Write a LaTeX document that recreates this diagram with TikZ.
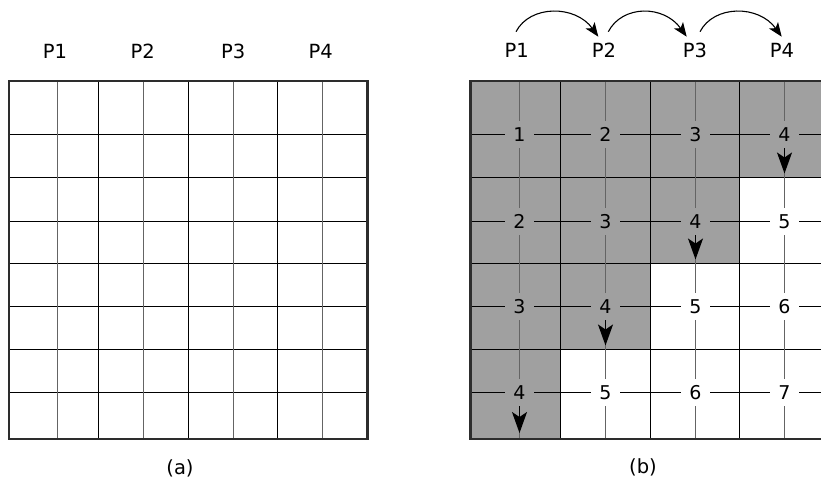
\documentclass[tikz,border=0pt]{standalone}
\usepackage{fontspec}
\setmainfont{DejaVu Sans}
\usetikzlibrary{arrows.meta,calc}
\definecolor{shadegray}{RGB}{160,160,160}
\definecolor{minorgray}{RGB}{100,100,100}
\definecolor{borderdark}{RGB}{45,45,45}
\tikzset{
  majorline/.style={black,line width=1pt},
  minorline/.style={minorgray,line width=1.5pt},
  midline/.style={black,line width=1pt},
  borderline/.style={borderdark,line width=2.5pt},
  plabel/.style={font=\fontsize{19.5}{23}\selectfont,inner sep=2pt},
  caplabel/.style={font=\fontsize{19.5}{23}\selectfont,inner sep=2pt},
  cellnum/.style={font=\fontsize{19}{23}\selectfont,inner sep=0pt,minimum width=29pt,minimum height=27pt},
  downarrow/.style={black,line width=1.3pt,-{Stealth[length=21pt,width=15pt,inset=5pt]}},
  hoparrow/.style={black,line width=1.1pt,-{Stealth[length=14pt,width=11pt,inset=3.5pt]}}
}
\begin{document}
\begin{tikzpicture}[x=1pt,y=-1pt]
\useasboundingbox (0,0) rectangle (821,485);
\clip (0,0) rectangle (821,485);
% ---------------- (a) ----------------
\foreach \y in {134.5,177.5,221.5,263.5,306.5,349.5,392.5}
  \draw[majorline] (9,\y) -- (367.7,\y);
\foreach \x in {98.5,188.5,277.5}
  \draw[majorline] (\x,81) -- (\x,439);
\foreach \x in {57.5,143.5,233.5,322.5}
  \draw[minorline] (\x,81) -- (\x,439);
\draw[borderline] (9,81) rectangle (367.7,439);
\node[plabel] (pa1) at (55,51) {P1};
\node[plabel] (pa2) at (142.7,51) {P2};
\node[plabel] (pa3) at (233.3,51) {P3};
\node[plabel] (pa4) at (320.7,51) {P4};
\node[caplabel] (capa) at (180,468) {(a)};
% ---------------- (b) ----------------
\fill[shadegray] (470.7,81) -- (829.4,81) -- (829.4,177.5) -- (739.5,177.5)
  -- (739.5,263.5) -- (650.5,263.5) -- (650.5,349.5) -- (560.5,349.5)
  -- (560.5,439) -- (470.7,439) -- cycle;
\foreach \y in {177.5,263.5,349.5}
  \draw[majorline] (470.7,\y) -- (829.4,\y);
\foreach \x in {560.5,650.5,739.5}
  \draw[majorline] (\x,81) -- (\x,439);
% cell numbers
\foreach \r/\y in {1/134.5,2/221.5,3/306.5,4/392.5}{
  \foreach \c/\x in {1/519.5,2/605.5,3/695.5,4/784.5}{
    \pgfmathtruncatemacro{\v}{\r+\c-1}
    \node[cellnum] (n\r\c) at (\x,\y) {\v};
  }
}
% coordinates on borders
\foreach \r/\y in {1/134.5,2/221.5,3/306.5,4/392.5}{
  \coordinate (L\r) at (470.7,\y);
  \coordinate (R\r) at (829.4,\y);
}
\foreach \c/\x in {1/519.5,2/605.5,3/695.5,4/784.5}{
  \coordinate (T\c) at (\x,81);
  \coordinate (B\c) at (\x,439);
}
% horizontal lines through numbers
\foreach \r in {1,2,3,4}
  \draw[midline] (L\r) -- (n\r1) -- (n\r2) -- (n\r3) -- (n\r4) -- (R\r);
% vertical lines through numbers
\foreach \c in {1,2,3,4}
  \draw[minorline] (T\c) -- (n1\c) -- (n2\c) -- (n3\c) -- (n4\c) -- (B\c);
% down arrows
\coordinate (a14) at (784.5,173.5);
\coordinate (a23) at (695.5,259.5);
\coordinate (a32) at (605.5,345.5);
\coordinate (a41) at (519.5,433);
\draw[downarrow] (n14) -- (a14);
\draw[downarrow] (n23) -- (a23);
\draw[downarrow] (n32) -- (a32);
\draw[downarrow] (n41) -- (a41);
\draw[borderline] (470.7,81) rectangle (829.4,439);
% P labels
\node[plabel] (pb1) at (516.7,50) {P1};
\node[plabel] (pb2) at (604,50) {P2};
\node[plabel] (pb3) at (695,50) {P3};
\node[plabel] (pb4) at (782,50) {P4};
\draw[hoparrow] ([shift={(-0.7,-18.3)}]pb1.center) .. controls +(14,-27) and +(-23,-32) .. ([shift={(-5.7,-13.3)}]pb2.center);
\draw[hoparrow] ([shift={(4.3,-18.3)}]pb2.center) .. controls +(14,-27) and +(-23,-32) .. ([shift={(-8.3,-13.3)}]pb3.center);
\draw[hoparrow] ([shift={(5,-18.3)}]pb3.center) .. controls +(14,-27) and +(-23,-32) .. ([shift={(-0.3,-13.3)}]pb4.center);
\node[caplabel] (capb) at (643,467) {(b)};
\end{tikzpicture}
\end{document}
